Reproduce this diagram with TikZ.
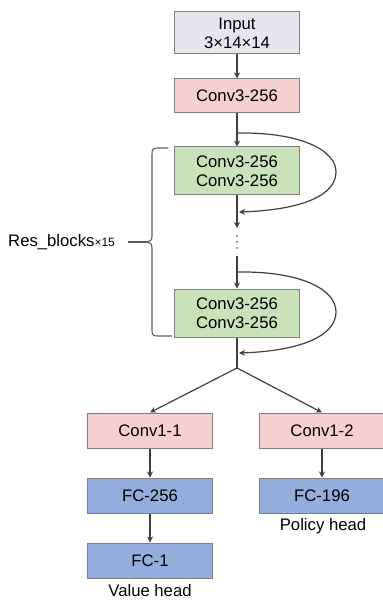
\documentclass[tikz,border=0pt]{standalone}
\usepackage{fontspec}
\setmainfont{Liberation Sans}
\usetikzlibrary{arrows.meta}
\definecolor{boxline}{HTML}{7F7F7F}
\definecolor{inputfill}{HTML}{E7E6EB}
\definecolor{convfill}{HTML}{F6CFD3}
\definecolor{resfill}{HTML}{CAE2BA}
\definecolor{fcfill}{HTML}{93AEDC}
\definecolor{wire}{HTML}{404040}
\tikzset{
  layer/.style={draw=boxline, line width=1pt, minimum width=125pt, inner sep=0pt,
    font=\fontsize{16.7}{19}\selectfont, align=center},
  inbox/.style={layer, fill=inputfill, minimum height=42pt},
  convbox/.style={layer, fill=convfill, minimum height=35pt},
  resbox/.style={layer, fill=resfill, minimum height=48pt},
  fcbox/.style={layer, fill=fcfill, minimum height=35pt},
  caption/.style={font=\fontsize{16.7}{19}\selectfont, inner sep=0pt},
  flow/.style={draw=wire, line width=1.2pt, -{Stealth[length=6pt,width=6pt]}},
  wireline/.style={draw=wire, line width=1.2pt},
  bracket/.style={draw=wire!85, line width=1.1pt},
}
\begin{document}
\begin{tikzpicture}[x=1pt,y=-1pt]
\useasboundingbox (0,0) rectangle (382,601);

% trunk
\node[inbox]   (input) at (237,33)  {Input\\3×14×14};
\node[convbox, minimum height=34pt] (conv)  at (237,96)  {Conv3-256};
\node[resbox]  (res1)  at (237,171) {Conv3-256\\Conv3-256};
\node[resbox]  (res2)  at (237,313) {Conv3-256\\Conv3-256};

% heads
\node[convbox] (c11)   at (150,430.5) {Conv1-1};
\node[convbox] (c12)   at (322,430.5) {Conv1-2};
\node[fcbox]   (fc256) at (150,495.5) {FC-256};
\node[fcbox]   (fc196) at (322,495.5) {FC-196};
\node[fcbox]   (fc1)   at (150,560.5) {FC-1};
\node[caption] (ph) at (323,526) {Policy head};
\node[caption] (vh) at (150,591) {Value head};

% helper points on the trunk
\coordinate (l1s)   at (237,133);
\coordinate (l1e)   at (239,212);
\coordinate (a1)    at (237,228);
\coordinate (d1)    at (237,256);
\coordinate (l2s)   at (237,272);
\coordinate (l2e)   at (239,353);
\coordinate (split) at (237,368);

\draw[flow] (input) -- (conv);
\draw[flow] (conv) -- (res1);
\draw[flow] (res1) -- (a1);
\draw[flow] (d1) -- (res2);
\draw[wireline] (res2) -- (split);

% skip connections
\draw[flow] (l1s) .. controls (300,132) and (336,150) .. (336,172)
                  .. controls (336,196) and (300,210) .. (l1e);
\draw[flow] (l2s) .. controls (300,271) and (336,289) .. (336,312)
                  .. controls (336,336) and (300,351) .. (l2e);

% repeated blocks
\foreach \yy in {236,242,248} \fill[wire] (237,\yy) circle (0.9pt);

% branches
\draw[flow] (split) -- (c11.north);
\draw[flow] (split) -- (c12.north);
\draw[flow] (c11) -- (fc256);
\draw[flow] (fc256) -- (fc1);
\draw[flow] (c12) -- (fc196);

% residual stack bracket
\coordinate (btop) at (168,148);
\coordinate (bbot) at (172,336);
\coordinate (btip) at (147,242);
\draw[bracket] (btop) -- (158,148) .. controls (153,148) and (152,149) .. (152,154)
  -- (152,236) .. controls (152,240) and (150,242) .. (btip)
  .. controls (150,242) and (152,244) .. (152,248)
  -- (152,330) .. controls (152,335) and (153,336) .. (158,336) -- (bbot);
\node[caption, anchor=west] (rb) at (8,242) {Res\_blocks{\fontsize{12}{13}\selectfont×15}};
\coordinate (rbend) at (128,242);
\draw[bracket] (rbend) -- (btip);
\end{tikzpicture}
\end{document}
